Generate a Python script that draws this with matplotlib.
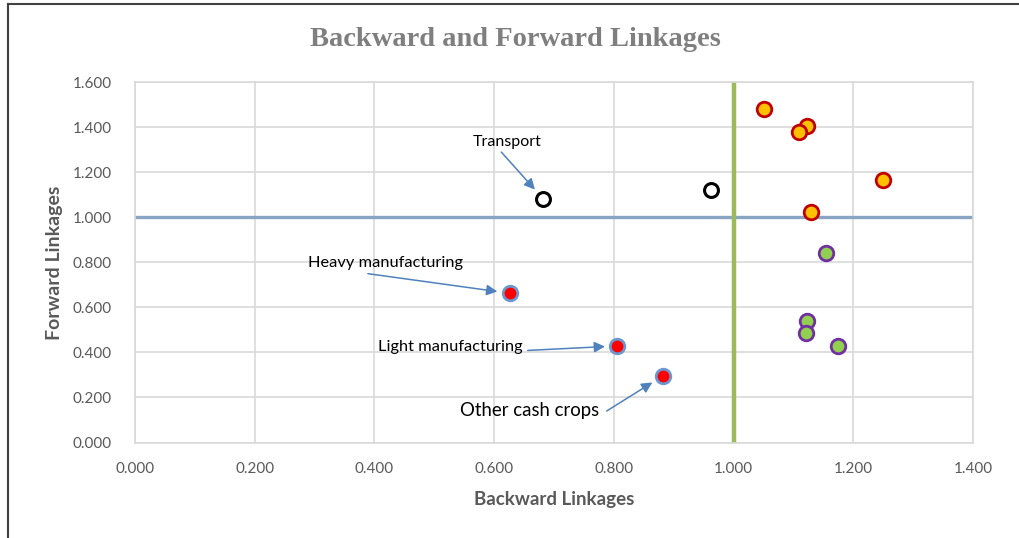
import matplotlib
matplotlib.use("Agg")
import matplotlib.pyplot as plt
from matplotlib.lines import Line2D

# sector groups (backward, forward)
above_bl = [1.050, 1.123, 1.110, 1.250, 1.130]
above_fl = [1.482, 1.404, 1.379, 1.165, 1.024]

below_bl = [1.154, 1.123, 1.121, 1.174]
below_fl = [0.841, 0.541, 0.485, 0.430]

open_bl = [0.682, 0.962]
open_fl = [1.082, 1.121]

manuf_names = ["Heavy manufacturing", "Light manufacturing", "Other cash crops"]
manuf_bl = [0.626, 0.806, 0.882]
manuf_fl = [0.663, 0.429, 0.296]

x_ticks = [0.0, 0.2, 0.4, 0.6, 0.8, 1.0, 1.2, 1.4]
y_ticks = [0.0, 0.2, 0.4, 0.6, 0.8, 1.0, 1.2, 1.4, 1.6]

FONT = "Lato"
GRAY = "#595959"

fig = plt.figure(figsize=(10.19, 5.38), dpi=100)
ax = fig.add_axes([0.1325, 0.1775, 0.8224, 0.6695])

# figure frame (only top and left are visible)
fig.add_artist(Line2D([0.0075, 1.0], [0.992, 0.992], color="#404040", lw=1.5))
fig.add_artist(Line2D([0.0075, 0.0075], [0.0, 0.992], color="#404040", lw=1.5))

ax.set_xlim(0, 1.4)
ax.set_ylim(0, 1.6)
ax.set_xticks(x_ticks)
ax.set_yticks(y_ticks)
ax.set_xticklabels(["%.3f" % v for v in x_ticks], fontfamily=FONT, fontsize=11, color=GRAY)
ax.set_yticklabels(["%.3f" % v for v in y_ticks], fontfamily=FONT, fontsize=11, color=GRAY)
ax.tick_params(axis="y", length=0, pad=16.5)
ax.tick_params(axis="x", length=0, pad=14)
ax.grid(True, color="#d9d9d9", lw=1.2)
ax.set_axisbelow(True)
for s in ax.spines.values():
    s.set_color("#d9d9d9")
    s.set_linewidth(1.2)

ax.axhline(1.0, color="#8aa5c4", lw=2.4, zorder=2)
ax.axvline(1.0, color="#9bbb59", lw=3.2, zorder=2)

ax.scatter(above_bl, above_fl, s=110, facecolor="#ffc000", edgecolor="#c00000", linewidth=2, zorder=4)
ax.scatter(below_bl, below_fl, s=110, facecolor="#92d050", edgecolor="#7030a0", linewidth=2, zorder=4)
ax.scatter(open_bl, open_fl, s=100, facecolor="white", edgecolor="black", linewidth=2.2, zorder=4)
ax.scatter(manuf_bl, manuf_fl, s=110, facecolor="#ff0000", edgecolor="#6d97cf", linewidth=2, zorder=4)

arrow = dict(arrowstyle="-|>", color="#4f81bd", lw=1.1, mutation_scale=16, shrinkA=0, shrinkB=9)

ax.text(0.622, 1.335, "Transport", fontfamily=FONT, fontsize=11.5, ha="center", va="center")
ax.annotate("", xy=(open_bl[0], open_fl[0]), xytext=(0.612, 1.290), arrowprops=arrow)

ax.text(0.419, 0.796, manuf_names[0], fontfamily=FONT, fontsize=11.8, ha="center", va="center")
ax.annotate("", xy=(manuf_bl[0], manuf_fl[0]), xytext=(0.389, 0.750), arrowprops=arrow)

ax.text(0.526, 0.424, manuf_names[1], fontfamily=FONT, fontsize=11.8, ha="center", va="center")
ax.annotate("", xy=(manuf_bl[1], manuf_fl[1]), xytext=(0.656, 0.409), arrowprops=arrow)

ax.text(0.659, 0.140, manuf_names[2], fontfamily=FONT, fontsize=13.4, ha="center", va="center")
ax.annotate("", xy=(manuf_bl[2], manuf_fl[2]), xytext=(0.788, 0.140), arrowprops=arrow)

ax.set_xlabel("Backward Linkages", fontfamily=FONT, fontsize=13.5, fontweight="bold", color=GRAY, labelpad=11)
ax.set_ylabel("Forward Linkages", fontfamily=FONT, fontsize=14, fontweight="bold", color=GRAY, labelpad=7)

fig.text(0.506, 0.927, "Backward and Forward Linkages", fontfamily="Liberation Serif",
         fontsize=20.5, fontweight="bold", color="#7f7f7f", ha="center", va="center")

fig.savefig("out.png", dpi=100)
